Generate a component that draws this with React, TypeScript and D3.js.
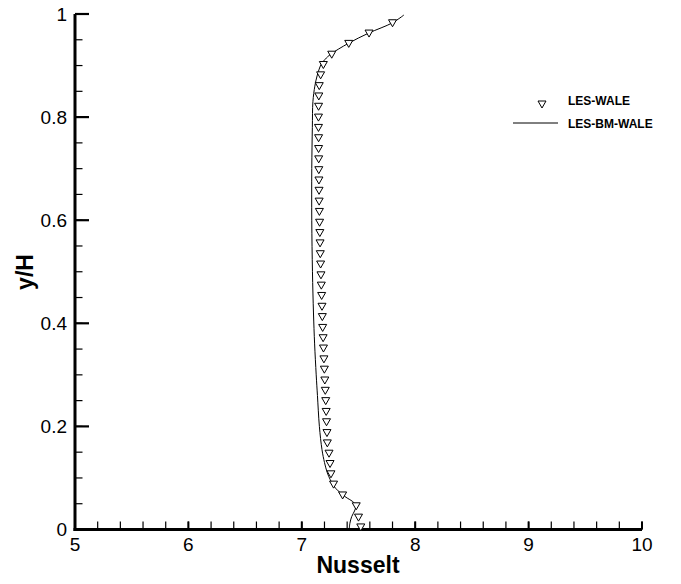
import React from "react";
import * as d3 from "d3";

// LES-WALE markers (y/H, Nusselt)
const markerY = [0.005, 0.024, 0.046, 0.067, 0.088, 0.108, 0.128, 0.148, 0.168, 0.188, 0.209, 0.229, 0.250, 0.270, 0.290, 0.311, 0.331, 0.352, 0.372, 0.392, 0.413, 0.433, 0.454, 0.474, 0.494, 0.515, 0.535, 0.556, 0.576, 0.596, 0.617, 0.637, 0.658, 0.678, 0.698, 0.719, 0.739, 0.760, 0.780, 0.800, 0.821, 0.841, 0.861, 0.882, 0.902, 0.922, 0.943, 0.963, 0.983];
const markerNu = [7.52, 7.50, 7.48, 7.36, 7.28, 7.257, 7.249, 7.240, 7.225, 7.222, 7.218, 7.215, 7.211, 7.207, 7.203, 7.199, 7.195, 7.191, 7.188, 7.184, 7.181, 7.178, 7.175, 7.172, 7.169, 7.166, 7.163, 7.161, 7.159, 7.157, 7.155, 7.153, 7.152, 7.151, 7.150, 7.149, 7.148, 7.148, 7.147, 7.147, 7.148, 7.150, 7.154, 7.166, 7.19, 7.264, 7.414, 7.593, 7.80];

// LES-BM-WALE line (y/H, Nusselt)
const lineY = [0, 0.012, 0.025, 0.036, 0.045, 0.052, 0.064, 0.075, 0.085, 0.097, 0.11, 0.13, 0.155, 0.2, 0.26, 0.3, 0.36, 0.42, 0.5, 0.6, 0.7, 0.78, 0.83, 0.86, 0.88, 0.902, 0.912, 0.922, 0.943, 0.963, 0.983, 0.998];
const lineNu = [7.418, 7.424, 7.44, 7.465, 7.475, 7.46, 7.38, 7.32, 7.28, 7.25, 7.225, 7.20, 7.178, 7.155, 7.138, 7.127, 7.113, 7.103, 7.094, 7.088, 7.088, 7.093, 7.098, 7.115, 7.135, 7.17, 7.205, 7.255, 7.41, 7.59, 7.80, 7.90];

const xTicks = [5, 6, 7, 8, 9, 10];
const xTickLabels = ["5", "6", "7", "8", "9", "10"];
const yTicks = [0, 0.2, 0.4, 0.6, 0.8, 1];
const yTickLabels = ["0", "0.2", "0.4", "0.6", "0.8", "1"];

const legendLabels = ["LES-WALE", "LES-BM-WALE"];

const FONT = "'Liberation Sans', Arial, Helvetica, sans-serif";

export default function App() {
  const x = d3.scaleLinear().domain([5, 10]).range([75, 642]);
  const y = d3.scaleLinear().domain([0, 1]).range([529.5, 14]);

  const xMinor = d3.range(5, 10.0001, 0.2);
  const yMinor = d3.range(0, 1.0001, 0.05);

  const lineData = lineY.map((v, i) => [lineNu[i], v] as [number, number]);
  const linePath = d3
    .line<[number, number]>()
    .x((d) => x(d[0]))
    .y((d) => y(d[1]))
    .curve(d3.curveCatmullRom.alpha(0.5))(lineData) as string;

  const tri = "M-4,-3L4,-3L0,4Z";

  return (
    <div style={{ position: "absolute", left: 0, top: 0 }}>
      <svg width={681} height={584} style={{ display: "block", background: "#fff" }} fontFamily={FONT}>
        <rect x={0} y={0} width={681} height={584} fill="#fff" />
        {/* minor ticks */}
        {xMinor.map((t, i) => (
          <line key={"xm" + i} x1={x(t)} x2={x(t)} y1={529.5} y2={521.5} stroke="#000" strokeWidth={1.2} />
        ))}
        {yMinor.map((t, i) => (
          <line key={"ym" + i} x1={75} x2={82.5} y1={y(t)} y2={y(t)} stroke="#000" strokeWidth={1.2} />
        ))}
        {xTicks.map((t, i) => (
          <line key={"xM" + i} x1={x(t)} x2={x(t)} y1={529.5} y2={521.5} stroke="#000" strokeWidth={2} />
        ))}
        {yTicks.map((t, i) => (
          <line key={"yM" + i} x1={75} x2={89} y1={y(t)} y2={y(t)} stroke="#000" strokeWidth={2.2} />
        ))}
        {/* axes */}
        <line x1={75} x2={75} y1={14} y2={531} stroke="#000" strokeWidth={3} />
        <line x1={73.5} x2={642} y1={529.5} y2={529.5} stroke="#000" strokeWidth={3} />
        {/* tick labels */}
        {xTicks.map((t, i) => (
          <text key={"xl" + i} x={x(t)} y={550.5} textAnchor="middle" fontSize={19}>
            {xTickLabels[i]}
          </text>
        ))}
        {yTicks.map((t, i) => (
          <text key={"yl" + i} x={67} y={y(t) + 6.8} textAnchor="end" fontSize={19}>
            {yTickLabels[i]}
          </text>
        ))}
        {/* axis titles */}
        <text x={358} y={573} textAnchor="middle" fontSize={23} fontWeight="bold">
          Nusselt
        </text>
        <text transform="translate(33,272) rotate(-90)" textAnchor="middle" fontSize={23} fontWeight="bold">
          y/H
        </text>
        {/* line */}
        <path d={linePath} fill="none" stroke="#000" strokeWidth={1} />
        {/* markers */}
        {markerY.map((v, i) => (
          <path
            key={"m" + i}
            d={tri}
            transform={`translate(${x(markerNu[i])},${y(v)})`}
            fill="#fff"
            stroke="#000"
            strokeWidth={1}
          />
        ))}
        {/* legend */}
        <path d={tri} transform="translate(542,104)" fill="#fff" stroke="#000" strokeWidth={1} />
        <text x={568} y={104.5} fontSize={12} fontWeight="bold">
          {legendLabels[0]}
        </text>
        <line x1={513} x2={558} y1={123} y2={123} stroke="#000" strokeWidth={1} />
        <text x={568} y={128} fontSize={12} fontWeight="bold">
          {legendLabels[1]}
        </text>
      </svg>
    </div>
  );
}
